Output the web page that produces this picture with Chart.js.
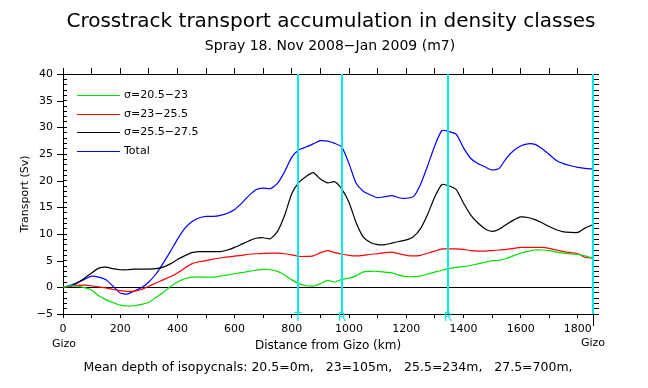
<!DOCTYPE html>
<html>
<head>
<meta charset="utf-8">
<script src="https://cdn.jsdelivr.net/npm/chart.js@4"></script>
<style>
  html, body { margin: 0; padding: 0; background: #fff; }
</style>
</head>
<body>
<canvas id="myChart" width="648" height="388"></canvas>
<script>
// distance along the section (km) and accumulated transport per density class (Sv)
const distanceKm = [
  0, 25, 50, 75, 100, 125, 150, 175, 200, 225, 250, 275, 300, 325, 350, 375, 400, 425, 450, 475,
  500, 525, 550, 575, 600, 625, 650, 675, 700, 725, 750, 775, 800, 825, 850, 875, 900, 925, 950, 975,
  1000, 1025, 1050, 1075, 1100, 1125, 1150, 1175, 1200, 1225, 1250, 1275, 1300, 1325, 1350, 1375, 1400, 1425, 1450, 1475,
  1500, 1525, 1550, 1575, 1600, 1625, 1650, 1675, 1700, 1725, 1750, 1775, 1800, 1825, 1850
];
const sigma205to23 = [
  0, 0.3, 0.2, -0.05, -0.5, -1.6, -2.3, -2.85, -3.35, -3.5, -3.45, -3.2, -2.8, -1.9, -0.95, 0.1, 1.0, 1.6, 1.9, 1.95,
  1.9, 1.9, 2.1, 2.35, 2.55, 2.75, 3.0, 3.2, 3.35, 3.3, 3.0, 2.3, 1.4, 0.7, 0.3, 0.25, 0.7, 1.3, 1.0, 1.5,
  1.7, 2.2, 2.9, 3.0, 3.0, 2.85, 2.7, 2.3, 2.0, 2.0, 2.1, 2.5, 2.85, 3.2, 3.5, 3.75, 3.9, 4.1, 4.4, 4.7,
  5.0, 5.05, 5.4, 5.95, 6.4, 6.75, 7.0, 7.0, 6.9, 6.6, 6.4, 6.25, 6.2, 5.9, 5.5
];
const sigma23to255 = [
  0, 0.2, 0.35, 0.43, 0.3, 0.1, -0.13, -0.4, -0.6, -0.75, -0.7, -0.4, 0.2, 0.8, 1.4, 2.0, 2.7, 3.6, 4.4, 4.8,
  5.0, 5.3, 5.5, 5.7, 5.85, 6.0, 6.2, 6.3, 6.35, 6.4, 6.4, 6.3, 6.1, 5.8, 5.8, 5.9, 6.5, 6.9, 6.5, 6.2,
  6.0, 5.9, 6.0, 6.2, 6.3, 6.5, 6.6, 6.3, 6.0, 5.9, 6.0, 6.4, 6.8, 7.2, 7.2, 7.2, 7.1, 6.9, 6.8, 6.8,
  6.9, 7.0, 7.1, 7.3, 7.5, 7.5, 7.5, 7.5, 7.3, 7.0, 6.7, 6.5, 6.3, 5.6, 5.5
];
const sigma255to275 = [
  0, 0.1, 0.8, 1.7, 2.7, 3.6, 3.8, 3.5, 3.3, 3.3, 3.4, 3.4, 3.4, 3.5, 3.8, 4.4, 5.2, 5.9, 6.5, 6.7,
  6.7, 6.7, 6.7, 7.0, 7.5, 8.1, 8.7, 9.2, 9.3, 9.1, 10.5, 13.5, 17.6, 19.7, 20.8, 21.5, 20.3, 19.6, 19.8, 18.4,
  15.9, 12.1, 9.4, 8.4, 8.0, 8.0, 8.3, 8.6, 8.9, 9.5, 11.0, 13.7, 17.0, 19.3, 19.0, 18.3, 15.8, 13.6, 12.1, 11.0,
  10.5, 10.9, 11.8, 12.6, 13.2, 13.1, 12.7, 12.1, 11.4, 10.8, 10.4, 10.3, 10.3, 11.1, 11.7
];
const total = [
  0, 0.4, 0.9, 1.5, 2.1, 1.9, 1.4, 0.2, -1.05, -1.25, -0.65, -0.05, 1.0, 2.5, 4.5, 6.7, 9.0, 11.0, 12.3, 13.0,
  13.3, 13.3, 13.5, 13.9, 14.6, 15.8, 17.2, 18.3, 18.6, 18.5, 19.5, 21.7, 24.4, 25.8, 26.3, 26.9, 27.5, 27.4, 27.0, 26.3,
  23.2, 19.5, 18.0, 17.3, 16.8, 17.0, 17.2, 16.8, 16.7, 17.0, 19.3, 22.8, 26.6, 29.4, 29.2, 28.7, 26.2, 24.2, 23.2, 22.6,
  22.0, 22.3, 24.2, 25.6, 26.5, 26.9, 26.8, 26.0, 24.9, 23.8, 23.2, 22.8, 22.5, 22.3, 22.2
];
const seriesLabels = ['σ=20.5−23', 'σ=23−25.5', 'σ=25.5−27.5', 'Total'];
const seriesColors = ['#00e000', '#ff0000', '#000000', '#0000ff'];

// section markers along the track
const markerKm = [820, 974, 1345, 1853];
const markerTags = ['T', 'R', 'R', ''];

const xMaxKm = 1853;
const xTickKm = [0, 100, 200, 300, 400, 500, 600, 700, 800, 900, 1000, 1100, 1200, 1300, 1400, 1500, 1600, 1700, 1800];
const yLabelSv = [-5, 0, 5, 10, 15, 20, 25, 30, 35, 40];

const FONT = 'DejaVu Sans';
const CYAN = '#00eeee';

const yMinor = [];
for (let v = -5; v <= 40; v++) yMinor.push(v);

const toPoints = arr => distanceKm.map((x, i) => ({ x: x, y: arr[i] }));
const allSeries = [sigma205to23, sigma23to255, sigma255to275, total];

const decorations = {
  id: 'decorations',
  beforeDatasetsDraw(chart) {
    const { ctx, chartArea: a, scales } = chart;
    const y0 = Math.round(scales.y.getPixelForValue(0)) + 0.5;
    ctx.save();
    ctx.strokeStyle = '#000';
    ctx.lineWidth = 1;
    ctx.beginPath();
    ctx.moveTo(a.left, y0);
    ctx.lineTo(a.right, y0);
    ctx.stroke();
    ctx.restore();
  },
  afterDatasetsDraw(chart) {
    const { ctx, chartArea: a, scales } = chart;
    ctx.save();
    // cyan section lines
    ctx.strokeStyle = CYAN;
    ctx.lineWidth = 2;
    ctx.fillStyle = CYAN;
    ctx.font = '12px "' + FONT + '"';
    ctx.textAlign = 'center';
    ctx.textBaseline = 'middle';
    markerKm.forEach((km, i) => {
      const x = Math.round(scales.x.getPixelForValue(km));
      ctx.beginPath();
      ctx.moveTo(x, a.top);
      ctx.lineTo(x, a.bottom);
      ctx.stroke();
      if (markerTags[i]) ctx.fillText(markerTags[i], x, a.bottom + 4);
    });
    // long end tick at the far end of the section
    const xe = Math.round(scales.x.getPixelForValue(xMaxKm)) + 0.5;
    ctx.strokeStyle = '#000';
    ctx.lineWidth = 1;
    ctx.beginPath();
    ctx.moveTo(xe, a.bottom);
    ctx.lineTo(xe, a.bottom + 12);
    ctx.stroke();
    // outer half of the major left ticks
    yLabelSv.forEach(v => {
      const y = Math.round(scales.y.getPixelForValue(v)) + 0.5;
      ctx.beginPath();
      ctx.moveTo(a.left - 6, y);
      ctx.lineTo(a.left, y);
      ctx.stroke();
    });
    // legend
    ctx.font = '11px "' + FONT + '"';
    ctx.textAlign = 'left';
    chart.data.datasets.forEach((ds, i) => {
      const y = Math.round(95 + i * 18.7) + 0.5;
      ctx.strokeStyle = ds.borderColor;
      ctx.beginPath();
      ctx.moveTo(77, y);
      ctx.lineTo(120, y);
      ctx.stroke();
      ctx.fillStyle = '#000';
      ctx.fillText(ds.label, 124, y);
    });
    ctx.restore();
  },
  afterDraw(chart) {
    const { ctx } = chart;
    ctx.save();
    ctx.fillStyle = '#000';
    ctx.textAlign = 'center';
    ctx.textBaseline = 'middle';
    ctx.font = '20px "' + FONT + '"';
    ctx.fillText('Crosstrack transport accumulation in density classes', 331, 22);
    ctx.font = '14px "' + FONT + '"';
    ctx.fillText('Spray 18. Nov 2008−Jan 2009 (m7)', 330, 46);
    ctx.font = '12px "' + FONT + '"';
    ctx.fillText('Distance from Gizo (km)', 328, 346);
    ctx.font = '11px "' + FONT + '"';
    ctx.fillText('Gizo', 64, 344);
    ctx.fillText('Gizo', 593, 343);
    ctx.font = '12.5px "' + FONT + '"';
    ctx.fillText('Mean depth of isopycnals: 20.5=0m,   23=105m,   25.5=234m,   27.5=700m,', 328, 368);
    ctx.translate(25, 194);
    ctx.rotate(-Math.PI / 2);
    ctx.font = '11px "' + FONT + '"';
    ctx.fillText('Transport (Sv)', 0, 0);
    ctx.restore();
  }
};

const ctx = document.getElementById('myChart');

new Chart(ctx, {
  type: 'line',
  data: {
    datasets: allSeries.map((arr, i) => ({
      label: seriesLabels[i],
      data: toPoints(arr),
      borderColor: seriesColors[i],
      backgroundColor: seriesColors[i],
      borderWidth: 1.2,
      pointRadius: 0,
      tension: 0.2,
      fill: false,
      xAxisID: 'x',
      yAxisID: 'y'
    }))
  },
  options: {
    responsive: false,
    animation: false,
    events: [],
    layout: { padding: { left: 0, top: 68, right: 47, bottom: 54 } },
    plugins: {
      legend: { display: false },
      title: { display: false },
      tooltip: { enabled: false }
    },
    scales: {
      x: {
        type: 'linear',
        position: 'bottom',
        min: 0,
        max: xMaxKm,
        afterBuildTicks: s => { s.ticks = xTickKm.map(v => ({ value: v })); },
        afterFit: s => { s.height = 20; },
        ticks: {
          autoSkip: false,
          maxRotation: 0,
          padding: 5,
          color: '#000',
          font: { family: FONT, size: 11 },
          callback: v => (v % 200 === 0 ? String(v) : '')
        },
        grid: { drawOnChartArea: false, tickLength: 4, color: '#000' },
        border: { color: '#000', width: 1 }
      },
      xTop: {
        type: 'linear',
        position: 'top',
        min: 0,
        max: xMaxKm,
        afterBuildTicks: s => { s.ticks = xTickKm.map(v => ({ value: v })); },
        afterFit: s => { s.height = 6; },
        ticks: { display: false },
        grid: { drawOnChartArea: false, tickLength: 6, color: '#000' },
        border: { color: '#000', width: 1 }
      },
      y: {
        type: 'linear',
        position: 'left',
        min: -5,
        max: 40,
        afterBuildTicks: s => { s.ticks = yMinor.map(v => ({ value: v })); },
        afterFit: s => { s.width = 63; },
        ticks: {
          autoSkip: false,
          padding: 14,
          color: '#000',
          font: { family: FONT, size: 11 },
          callback: v => (v % 5 === 0 ? (v < 0 ? '−' + (-v) : String(v)) : '')
        },
        grid: { drawOnChartArea: false, tickLength: -4, color: '#000' },
        border: { color: '#000', width: 1 }
      },
      y2: {
        type: 'linear',
        position: 'right',
        min: -5,
        max: 40,
        afterBuildTicks: s => { s.ticks = yMinor.map(v => ({ value: v })); },
        afterFit: s => { s.width = 8; },
        ticks: { display: false },
        grid: { drawOnChartArea: false, tickLength: 6, color: '#000' },
        border: { color: '#000', width: 1 }
      }
    }
  },
  plugins: [decorations]
});
</script>
</body>
</html>
